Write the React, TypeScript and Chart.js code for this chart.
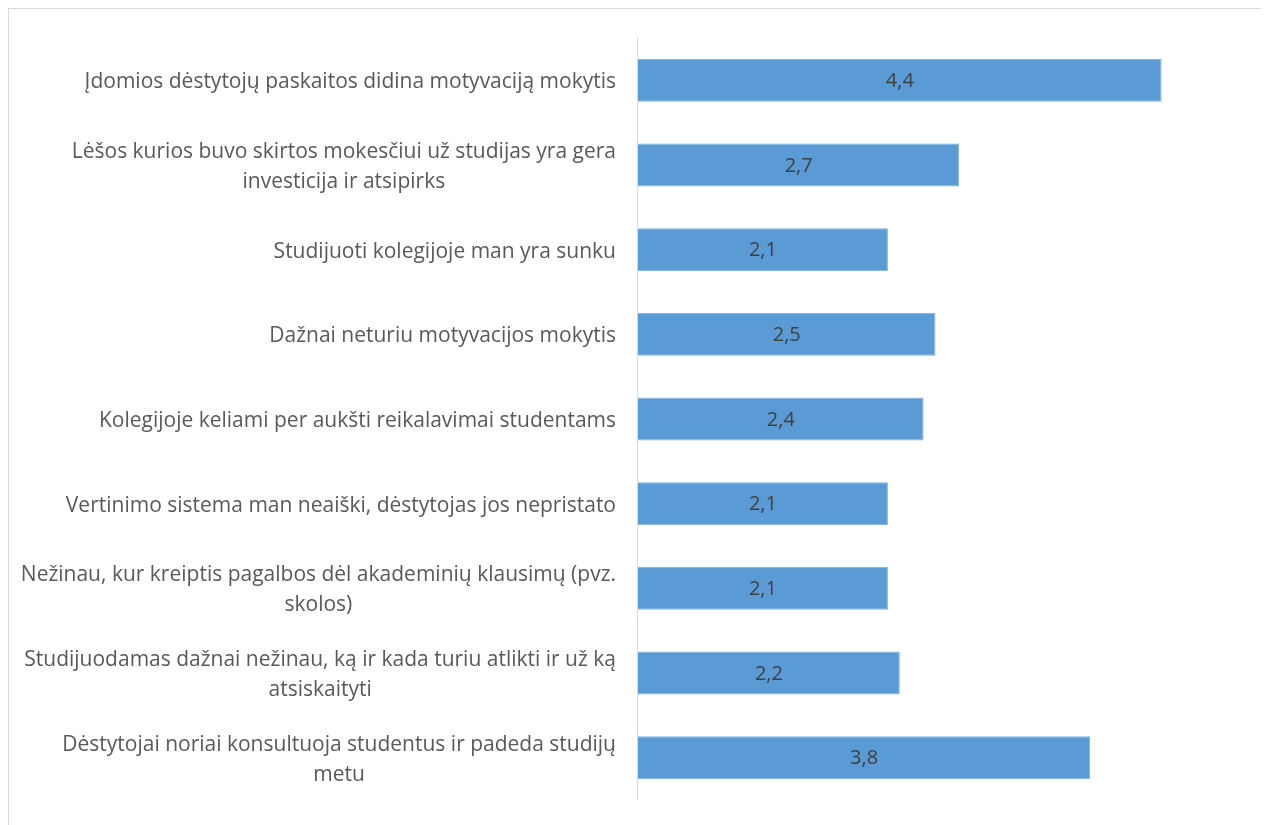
import React, { useEffect, useRef } from "react";
import { Chart, registerables } from "chart.js";

Chart.register(...registerables);

const categories: string[][] = [
  ["Įdomios dėstytojų paskaitos didina motyvaciją mokytis"],
  ["Lėšos kurios buvo skirtos mokesčiui už studijas yra gera", "investicija ir atsipirks"],
  ["Studijuoti kolegijoje man yra sunku"],
  ["Dažnai neturiu motyvacijos mokytis"],
  ["Kolegijoje keliami per aukšti reikalavimai studentams"],
  ["Vertinimo sistema man neaiški, dėstytojas jos nepristato"],
  ["Nežinau, kur kreiptis pagalbos dėl akademinių klausimų (pvz.", "skolos)"],
  ["Studijuodamas dažnai nežinau, ką ir kada turiu atlikti ir už ką", "atsiskaityti"],
  ["Dėstytojai noriai konsultuoja studentus ir padeda studijų", "metu"],
];
const values: number[] = [4.4, 2.7, 2.1, 2.5, 2.4, 2.1, 2.1, 2.2, 3.8];

const FONT = "'Open Sans', sans-serif";

const labelPlugin = {
  id: "customLabels",
  afterDatasetsDraw(chart: any) {
    const ctx = chart.ctx;
    const area = chart.chartArea;
    const yScale = chart.scales.y;
    ctx.save();
    // axis line
    ctx.strokeStyle = "#d9d9d9";
    ctx.lineWidth = 1;
    ctx.beginPath();
    ctx.moveTo(Math.round(area.left) - 0.5, area.top);
    ctx.lineTo(Math.round(area.left) - 0.5, area.bottom);
    ctx.stroke();
    // category labels
    ctx.font = "21px " + FONT;
    ctx.fillStyle = "#595959";
    ctx.textBaseline = "middle";
    ctx.textAlign = "center";
    const lineH = 30;
    categories.forEach((lines, i) => {
      const y = yScale.getPixelForValue(i) + 2;
      const maxW = Math.max(...lines.map((l) => ctx.measureText(l).width));
      const right = area.left - 22;
      const cx = right - maxW / 2;
      const startY = y - ((lines.length - 1) * lineH) / 2;
      lines.forEach((l, j) => ctx.fillText(l, cx, startY + j * lineH));
    });
    // value labels
    const meta = chart.getDatasetMeta(0);
    ctx.fillStyle = "#404040";
    ctx.font = "20px " + FONT;
    meta.data.forEach((el: any, i: number) => {
      const cx = (el.x + el.base) / 2;
      ctx.fillText(values[i].toFixed(1).replace(".", ","), cx, el.y + 1);
    });
    ctx.restore();
  },
};

export default function App() {
  const ref = useRef<HTMLCanvasElement | null>(null);
  useEffect(() => {
    if (!ref.current) return;
    const chart = new Chart(ref.current, {
      type: "bar",
      data: {
        labels: categories.map((c) => c.join(" ")),
        datasets: [
          {
            data: values,
            backgroundColor: "#5b9bd5",
            borderColor: "#7fb1e0",
            borderWidth: 1,
            categoryPercentage: 1,
            barPercentage: 0.508,
          },
        ],
      },
      options: {
        indexAxis: "y",
        animation: false,
        responsive: true,
        maintainAspectRatio: false,
        layout: { padding: { left: 629, top: 29, bottom: 25, right: 28 } },
        plugins: { legend: { display: false }, tooltip: { enabled: false } },
        scales: {
          x: { display: false, min: 0, max: 5 },
          y: { display: false },
        },
      },
      plugins: [labelPlugin],
    });
    return () => chart.destroy();
  }, []);
  return (
    <div
      style={{
        width: 1252,
        height: 816,
        borderTop: "1px solid #d9d9d9",
        borderLeft: "1px solid #d9d9d9",
        borderRight: "2px solid #d9d9d9",
        position: "relative",
        background: "#fff",
      }}
    >
      <canvas ref={ref} />
    </div>
  );
}
